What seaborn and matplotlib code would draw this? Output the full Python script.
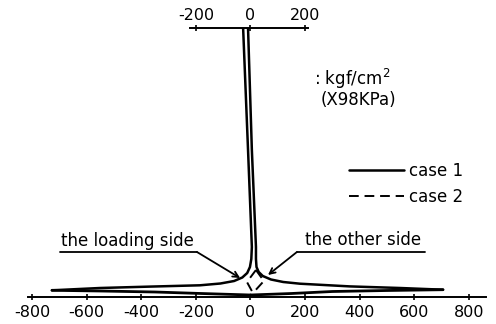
import numpy as np
import pandas as pd
import seaborn as sns
import matplotlib.pyplot as plt

# case 1 (solid): loading side branch, from the outer tip up to the top
load_x = [-727, -551, -368, -185, -110, -60, -30, -12, -2, 3, 5, -9, -27]
load_y = [6.7, 9, 10.4, 11.7, 13.5, 16, 19.5, 24, 30, 38, 50, 147, 269]
# case 1: other side branch
other_x = [705, 548, 364, 181, 120, 75, 45, 30, 22, 20, 20, 5, -9]
other_y = [7.3, 9, 10.6, 13.3, 15, 17.5, 21, 25, 30, 38, 50, 147, 269]
# case 1: lower edges of the thin lobes along the base
load_low_x = [-727, -550, -350, -180, 0]
load_low_y = [6.7, 6, 5, 3.5, 2]
other_low_x = [705, 500, 300, 150, 0]
other_low_y = [7.3, 6.5, 5.5, 3.5, 2]
# case 2 (dashed)
case2_left_x = [20, -13, 9]
case2_left_y = [27, 15, 4]
case2_right_x = [20, 49, 9]
case2_right_y = [27, 16, 4]

bottom_ticks = [-800, -600, -400, -200, 0, 200, 400, 600, 800]
top_ticks = [-200, 0, 200]

sns.set_style("white")
plt.rcParams['font.family'] = ['DejaVu Sans']
plt.rcParams['text.color'] = 'black'
plt.rcParams['xtick.color'] = 'black'

fig = plt.figure(figsize=(4.96, 3.24), dpi=100)
ax = fig.add_axes([20 / 496, 27 / 324, 470 / 496, 269 / 324])

def curve(x, y, label=None, ls='-', lw=1.8):
    df = pd.DataFrame({'x': x, 'y': y})
    sns.lineplot(data=df, x='x', y='y', sort=False, estimator=None, ax=ax,
                 color='black', lw=lw, linestyle=ls, label=label)

curve(load_x, load_y, label='case 1')
curve(other_x, other_y)
curve(load_low_x, load_low_y, lw=2)
curve(other_low_x, other_low_y, lw=2)
curve(case2_left_x, case2_left_y, label='case 2', ls=(0, (5, 3)), lw=1.4)
curve(case2_right_x, case2_right_y, ls=(0, (5, 3)), lw=1.4)

ax.set_xlim(-844, 877)
ax.set_ylim(0, 269)
ax.set_xlabel('')
ax.set_ylabel('')
ax.set_yticks([])
for s in ['left', 'right', 'top']:
    ax.spines[s].set_visible(False)
ax.spines['bottom'].set_bounds(-815, 862)
ax.spines['bottom'].set_linewidth(1.4)
ax.spines['bottom'].set_color('black')
ax.set_xticks(bottom_ticks)
ax.set_xticklabels([str(t) for t in bottom_ticks])
ax.tick_params(axis='x', direction='inout', length=5, width=1.2, pad=3,
               labelsize=11.5, color='black', labelcolor='black', bottom=True)

sec = ax.secondary_xaxis('top')
sec.set_xticks(top_ticks)
sec.set_xticklabels([str(t) for t in top_ticks])
sec.spines['top'].set_bounds(-221, 211)
sec.spines['top'].set_linewidth(1.4)
sec.spines['top'].set_color('black')
sec.tick_params(direction='inout', length=5, width=1.2, pad=1, labelsize=11.5,
                color='black', labelcolor='black')

# annotations
ax.text(-449, 56, 'the loading side', ha='center', va='center', fontsize=12)
ax.plot([-698, -196], [45, 45], color='black', lw=1.3)
ax.annotate('', xy=(-38, 19), xytext=(-196, 45),
            arrowprops=dict(arrowstyle='->', lw=1.3, color='black',
                            shrinkA=0, shrinkB=0))
ax.text(412, 57, 'the other side', ha='center', va='center', fontsize=12)
ax.plot([170, 639], [45, 45], color='black', lw=1.3)
ax.annotate('', xy=(64, 22), xytext=(170, 45),
            arrowprops=dict(arrowstyle='->', lw=1.3, color='black',
                            shrinkA=0, shrinkB=0))

# unit note
ax.text(233, 218, ': kgf/cm$^2$', ha='left', va='center', fontsize=12)
ax.text(257, 197, '(X98KPa)', ha='left', va='center', fontsize=12)

ax.legend(loc='center left', bbox_to_anchor=(0.70, 0.42), frameon=False,
          fontsize=12, handlelength=3.3, handletextpad=0.3,
          labelspacing=0.45, borderpad=0, borderaxespad=0)

fig.savefig('out.png', dpi=100, facecolor='white')
